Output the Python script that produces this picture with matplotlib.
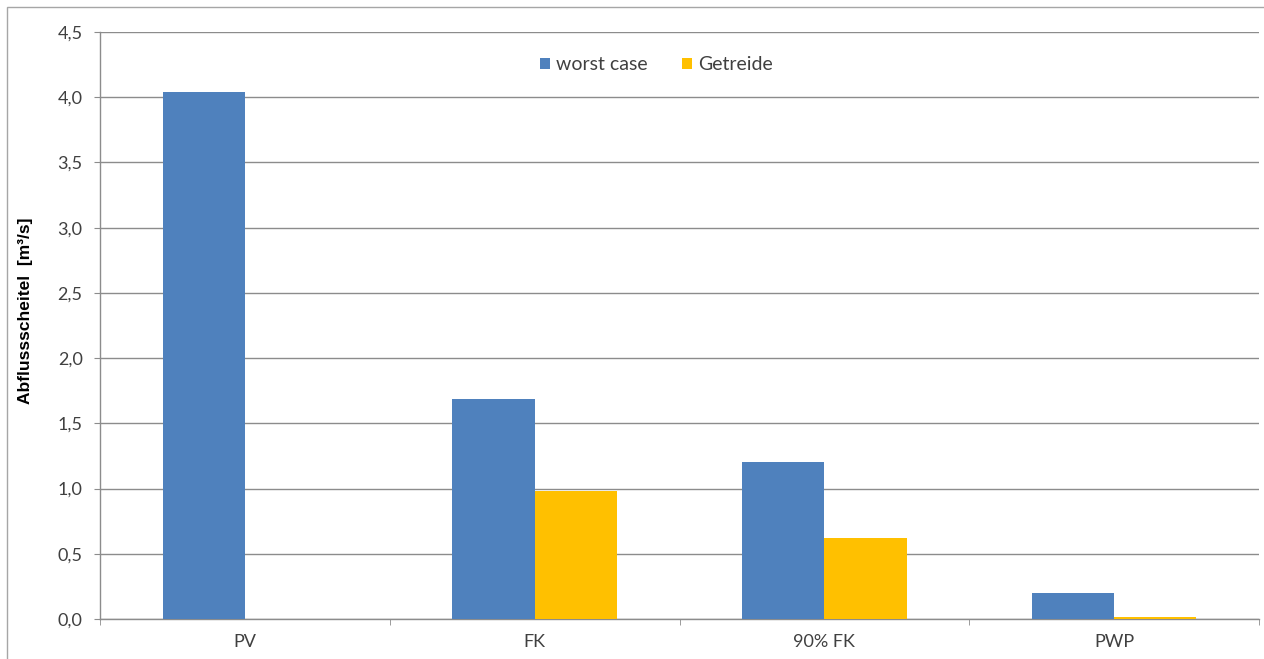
import numpy as np
import matplotlib
matplotlib.use("Agg")
import matplotlib.pyplot as plt
from matplotlib.patches import Rectangle

# data
categories = ["PV", "FK", "90% FK", "PWP"]
worst_case = [4.04, 1.69, 1.20, 0.20]
getreide = [0.0, 0.98, 0.62, 0.015]
series_names = ["worst case", "Getreide"]
y_ticks = [0.0, 0.5, 1.0, 1.5, 2.0, 2.5, 3.0, 3.5, 4.0, 4.5]

blue = "#4F81BD"
gold = "#FFC000"
grey = "#8C8C8C"
txt = "#404040"

plt.rcParams["font.family"] = ["Lato", "DejaVu Sans"]

fig = plt.figure(figsize=(12.64, 6.59), dpi=100)
ax = fig.add_axes([100 / 1264, 1 - 619 / 659, 1159 / 1264, 587 / 659])

# outer chart frame (right and bottom run off the picture)
fig.patches.append(Rectangle((7 / 1264, -0.05), 1.2, 1 - 7 / 659 + 0.05,
                             transform=fig.transFigure, fill=False,
                             edgecolor="#A6A6A6", lw=1.0))

x = np.arange(len(categories))
w = 0.284
ax.bar(x - w / 2, worst_case, w, color=blue, label=series_names[0], zorder=3)
ax.bar(x + w / 2, getreide, w, color=gold, label=series_names[1], zorder=3)

ax.set_xlim(-0.5, len(categories) - 0.5)
ax.set_ylim(0, 4.5)
ax.set_yticks(y_ticks)
ax.set_yticklabels([f"{v:.1f}".replace(".", ",") for v in y_ticks])
ax.yaxis.grid(True, color=grey, lw=1.0, zorder=0)

ax.set_xticks(x)
ax.set_xticklabels(categories)
ax.set_xticks(np.arange(len(categories) + 1) - 0.5, minor=True)
ax.tick_params(axis="x", which="major", length=0, pad=11, labelsize=13, colors=txt)
ax.tick_params(axis="x", which="minor", length=4.5, color=grey, direction="out")
ax.tick_params(axis="y", length=4.5, color=grey, pad=8, labelsize=13, labelcolor=txt)

for s in ["top", "right"]:
    ax.spines[s].set_visible(False)
for s in ["left", "bottom"]:
    ax.spines[s].set_color(grey)
    ax.spines[s].set_linewidth(1.0)

ax.set_ylabel("Abflussscheitel  [m³/s]", fontsize=12.5, fontweight="bold",
              color="black", family=["Liberation Sans", "DejaVu Sans"])
ax.yaxis.set_label_coords(-0.058, 0.525)

ax.legend(loc="center", bbox_to_anchor=(0.48, 0.944), ncol=2, frameon=False,
          fontsize=14, handlelength=0.5, handleheight=0.5, handletextpad=0.3,
          columnspacing=1.8, labelcolor=txt)

fig.savefig("out.png", dpi=100)
